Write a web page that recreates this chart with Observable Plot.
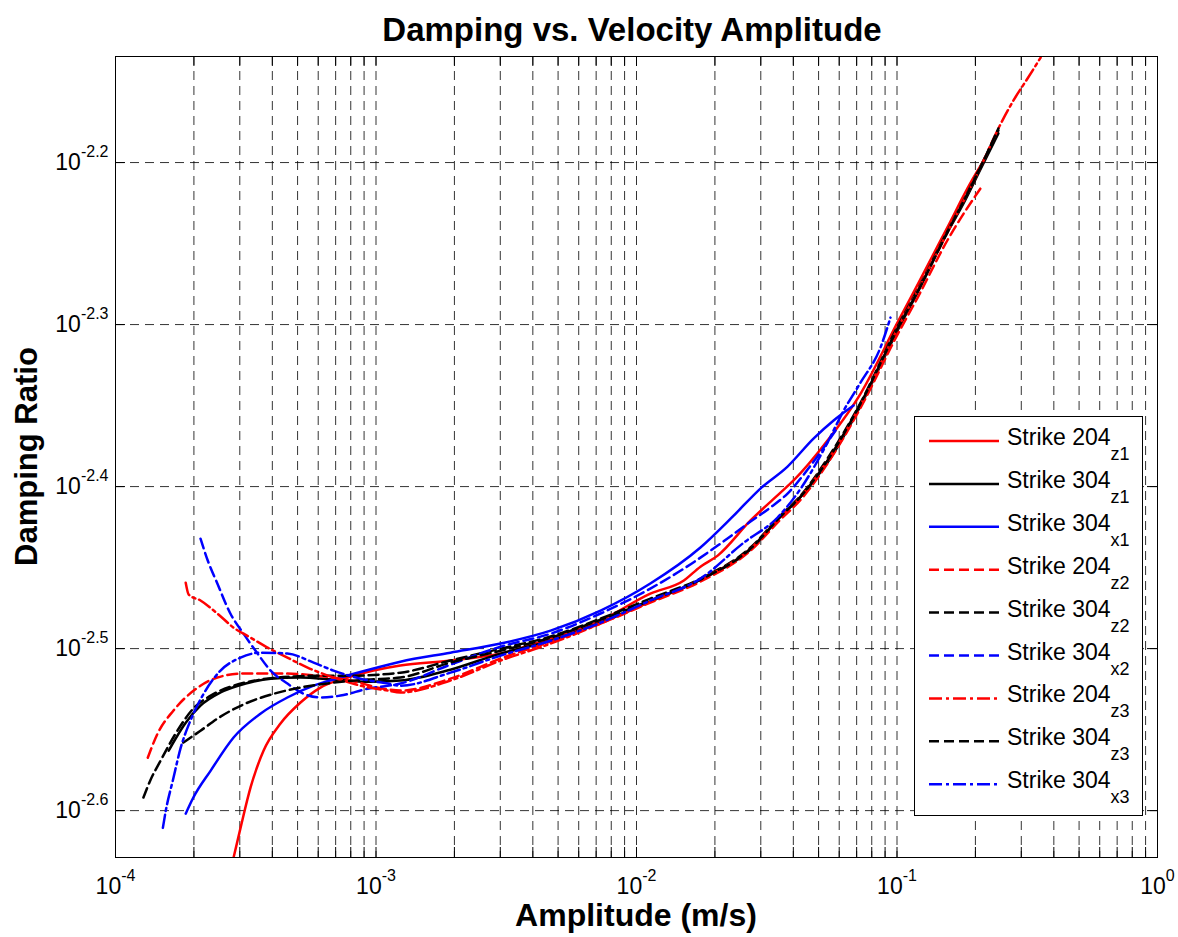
<!DOCTYPE html>
<html>
<head>
<meta charset="utf-8">
<script src="https://cdn.jsdelivr.net/npm/d3@7"></script>
<script src="https://cdn.jsdelivr.net/npm/@observablehq/plot@0.6"></script>
<style>
  body { margin: 0; background: #fff; }
  #wrap { position: relative; width: 1178px; height: 937px; font-family: "Liberation Sans", Arial, sans-serif; overflow: hidden; }
  .lbl { position: absolute; font-weight: bold; white-space: nowrap; text-align: center; color: #000; }
</style>
</head>
<body>
<div id="wrap">
  <div id="chart" style="position:absolute;left:0;top:0"></div>
  <div class="lbl" style="left:332px;width:600px;top:13px;font-size:33px;line-height:33px">Damping vs. Velocity Amplitude</div>
  <div class="lbl" style="left:336px;width:600px;top:899px;font-size:32px;line-height:32px">Amplitude (m/s)</div>
  <div class="lbl" style="left:-174px;width:400px;top:441px;height:31px;font-size:31px;line-height:31px;transform:rotate(-90deg);transform-origin:200px 15.5px">Damping Ratio</div>
</div>
<script>
// ---- Data (amplitude in m/s, damping ratio) ----
const amp204z1 = [2.84e-4, 3.02e-4, 3.30e-4, 3.70e-4, 4.30e-4, 5.13e-4, 6.12e-4, 7.77e-4, 9.78e-4, 1.24e-3, 1.93e-3, 3.01e-3, 4.68e-3, 7.28e-3, 1.13e-2, 1.52e-2, 1.76e-2, 2.05e-2, 2.74e-2, 3.57e-2, 4.01e-2, 5.41e-2, 7.25e-2, 0.1005, 0.120, 0.156, 0.191, 0.219];
const damp204z1 = [0.002350, 0.002451, 0.002596, 0.002735, 0.002843, 0.002929, 0.002992, 0.003035, 0.003065, 0.003087, 0.003109, 0.003140, 0.003208, 0.003291, 0.003419, 0.003484, 0.003553, 0.003609, 0.003794, 0.003947, 0.004016, 0.004250, 0.004544, 0.005027, 0.005305, 0.005753, 0.006125, 0.006355];

const amp304z1 = [1.60e-4, 1.70e-4, 1.86e-4, 2.12e-4, 2.53e-4, 3.16e-4, 3.94e-4, 5.13e-4, 6.87e-4, 9.28e-4, 1.24e-3, 1.93e-3, 3.01e-3, 4.68e-3, 7.28e-3, 1.13e-2, 1.76e-2, 2.74e-2, 3.57e-2, 4.27e-2, 5.41e-2, 7.25e-2, 0.1005, 0.120, 0.156, 0.180, 0.209, 0.245];
const damp304z1 = [0.002735, 0.002782, 0.002846, 0.002916, 0.002971, 0.003009, 0.003030, 0.003035, 0.003026, 0.003017, 0.003022, 0.003069, 0.003140, 0.003198, 0.003281, 0.003381, 0.003488, 0.003640, 0.003815, 0.003925, 0.004119, 0.004467, 0.004970, 0.005246, 0.005712, 0.005953, 0.006248, 0.006576];

const amp304x1 = [1.86e-4, 1.99e-4, 2.32e-4, 2.84e-4, 3.60e-4, 4.57e-4, 5.76e-4, 7.31e-4, 9.78e-4, 1.24e-3, 1.93e-3, 3.01e-3, 4.68e-3, 7.28e-3, 1.13e-2, 1.76e-2, 2.36e-2, 2.99e-2, 3.80e-2, 4.78e-2, 5.71e-2, 6.81e-2];
const damp304x1 = [0.002501, 0.002559, 0.002659, 0.002787, 0.002883, 0.002950, 0.003000, 0.003035, 0.003074, 0.003104, 0.003144, 0.003185, 0.003244, 0.003338, 0.003469, 0.003651, 0.003820, 0.003970, 0.004096, 0.004262, 0.004373, 0.004467];

const amp204z2 = [1.33e-4, 1.45e-4, 1.67e-4, 2.07e-4, 2.46e-4, 3.10e-4, 4.42e-4, 5.96e-4, 7.98e-4, 1.07e-3, 1.24e-3, 1.93e-3, 3.01e-3, 4.68e-3, 7.28e-3, 1.13e-2, 1.76e-2, 2.74e-2, 3.57e-2, 4.27e-2, 5.41e-2, 7.25e-2, 0.1005, 0.120, 0.156, 0.213];
const damp204z2 = [0.002708, 0.002802, 0.002896, 0.002992, 0.003035, 0.003052, 0.003052, 0.003043, 0.003022, 0.002987, 0.002979, 0.003030, 0.003118, 0.003194, 0.003277, 0.003376, 0.003478, 0.003635, 0.003799, 0.003908, 0.004114, 0.004454, 0.004942, 0.005208, 0.005648, 0.006108];

const amp304z2 = [1.28e-4, 1.36e-4, 1.49e-4, 1.70e-4, 1.99e-4, 2.32e-4, 2.84e-4, 3.60e-4, 4.70e-4, 6.12e-4, 7.98e-4, 1.24e-3, 1.93e-3, 3.01e-3, 4.68e-3, 7.28e-3, 1.13e-2, 1.76e-2, 2.74e-2, 3.57e-2, 4.27e-2, 5.41e-2, 7.25e-2, 0.1005, 0.120, 0.156, 0.180, 0.209, 0.245];
const damp304z2 = [0.002559, 0.002622, 0.002697, 0.002802, 0.002904, 0.002958, 0.003000, 0.003026, 0.003039, 0.003043, 0.003043, 0.003056, 0.003109, 0.003162, 0.003217, 0.003300, 0.003395, 0.003493, 0.003651, 0.003820, 0.003931, 0.004143, 0.004486, 0.004998, 0.005268, 0.005721, 0.005978, 0.006274, 0.006604];

const amp304x2 = [2.12e-4, 2.26e-4, 2.46e-4, 2.76e-4, 3.10e-4, 3.51e-4, 3.94e-4, 4.57e-4, 5.27e-4, 6.12e-4, 7.31e-4, 9.28e-4, 1.24e-3, 1.93e-3, 3.01e-3, 4.68e-3, 7.28e-3, 1.13e-2, 1.52e-2, 2.05e-2, 2.74e-2, 3.27e-2, 3.80e-2, 4.66e-2, 5.81e-2];
const damp304x2 = [0.003697, 0.003584, 0.003469, 0.003324, 0.003230, 0.003140, 0.003065, 0.003009, 0.002966, 0.002950, 0.002958, 0.002987, 0.003009, 0.003091, 0.003171, 0.003230, 0.003324, 0.003444, 0.003543, 0.003661, 0.003788, 0.003865, 0.003942, 0.004102, 0.004311];

const amp204z3 = [1.86e-4, 1.91e-4, 2.12e-4, 2.46e-4, 2.84e-4, 3.30e-4, 3.83e-4, 4.57e-4, 5.46e-4, 6.87e-4, 8.72e-4, 1.11e-3, 1.24e-3, 1.93e-3, 3.01e-3, 4.68e-3, 7.28e-3, 1.13e-2, 1.76e-2, 2.74e-2, 3.57e-2, 4.27e-2, 5.41e-2, 7.25e-2, 0.1005, 0.120, 0.156, 0.209, 0.245, 0.280, 0.317, 0.356];
const damp204z3 = [0.003473, 0.003415, 0.003386, 0.003324, 0.003258, 0.003212, 0.003167, 0.003122, 0.003078, 0.003035, 0.003000, 0.002979, 0.002971, 0.003022, 0.003109, 0.003185, 0.003277, 0.003381, 0.003488, 0.003645, 0.003815, 0.003925, 0.004131, 0.004473, 0.004984, 0.005260, 0.005712, 0.006266, 0.006623, 0.006892, 0.007110, 0.007325];

const amp304z3 = [1.82e-4, 2.12e-4, 2.53e-4, 3.16e-4, 3.94e-4, 5.13e-4, 6.87e-4, 9.28e-4, 1.24e-3, 1.93e-3, 3.01e-3, 4.68e-3, 7.28e-3, 1.13e-2, 1.76e-2, 2.74e-2, 3.57e-2, 4.27e-2, 5.41e-2, 7.25e-2, 0.1005, 0.120, 0.156, 0.180, 0.209, 0.245];
const damp304z3 = [0.002767, 0.002814, 0.002871, 0.002925, 0.002962, 0.002992, 0.003013, 0.003026, 0.003035, 0.003100, 0.003153, 0.003212, 0.003295, 0.003386, 0.003488, 0.003645, 0.003815, 0.003925, 0.004131, 0.004480, 0.004984, 0.005253, 0.005712, 0.005970, 0.006266, 0.006623];

const amp304x3 = [1.52e-4, 1.56e-4, 1.66e-4, 1.78e-4, 1.94e-4, 2.18e-4, 2.53e-4, 3.02e-4, 3.60e-4, 4.57e-4, 5.76e-4, 6.87e-4, 8.72e-4, 1.11e-3, 1.24e-3, 1.93e-3, 3.01e-3, 4.68e-3, 7.28e-3, 1.13e-2, 1.76e-2, 2.58e-2, 3.48e-2, 4.27e-2, 5.41e-2, 6.24e-2, 7.25e-2, 8.64e-2, 9.44e-2];
const damp304x3 = [0.002451, 0.002512, 0.002622, 0.002747, 0.002855, 0.002966, 0.003065, 0.003122, 0.003144, 0.003140, 0.003100, 0.003065, 0.003030, 0.003009, 0.003000, 0.003056, 0.003131, 0.003198, 0.003281, 0.003386, 0.003493, 0.003676, 0.003810, 0.003970, 0.004238, 0.004435, 0.004616, 0.004851, 0.005062];

// Series names / legend
const seriesNames = ["Strike 204", "Strike 304", "Strike 304", "Strike 204", "Strike 304", "Strike 304", "Strike 204", "Strike 304", "Strike 304"];
const seriesSubs  = ["z1", "z1", "x1", "z2", "z2", "x2", "z3", "z3", "x3"];

// Axis ticks
const xTickExponents = [-4, -3, -2, -1, 0];
const xMinorMultipliers = [2, 3, 4, 5, 6, 7, 8, 9];
const yTickExponents = [-2.6, -2.5, -2.4, -2.3, -2.2];
const yDomain = [0.002350, 0.007336];

// ---- Build ----
const RED = "#ff0000", BLACK = "#000000", BLUE = "#0000ff";
const SOLID = null, DASH = "10,5", DASHDOT = "13,4,3,4";
const series = [
  {amp: amp204z1, damp: damp204z1, color: RED,   dash: SOLID},
  {amp: amp304z1, damp: damp304z1, color: BLACK, dash: SOLID},
  {amp: amp304x1, damp: damp304x1, color: BLUE,  dash: SOLID},
  {amp: amp204z2, damp: damp204z2, color: RED,   dash: DASH},
  {amp: amp304z2, damp: damp304z2, color: BLACK, dash: DASH},
  {amp: amp304x2, damp: damp304x2, color: BLUE,  dash: DASH},
  {amp: amp204z3, damp: damp204z3, color: RED,   dash: DASHDOT},
  {amp: amp304z3, damp: damp304z3, color: BLACK, dash: DASH},
  {amp: amp304x3, damp: damp304x3, color: BLUE,  dash: DASHDOT}
].map((s, i) => ({...s, name: seriesNames[i], sub: seriesSubs[i]}));

const xDecades = xTickExponents.map(e => Math.pow(10, e));
const xMinor = xTickExponents.slice(0, -1).flatMap(e => xMinorMultipliers.map(m => m * Math.pow(10, e)));
const xAll = [...xDecades, ...xMinor];
const yTicks = yTickExponents.map(e => Math.pow(10, e));

const W = 1178, H = 937, mL = 115, mR = 21, mT = 56, mB = 80;
const plotW = W - mL - mR, plotH = H - mT - mB, tickLen = 10;
const gridStyle = {stroke: "#000", strokeWidth: 1, strokeDasharray: "9,6", strokeOpacity: 0.8};
const expOf = d => { const e = Math.round(Math.log10(d) * 10) / 10; return String(e); };

const lineMarks = series.map(s => Plot.line(
  s.amp.map((a, i) => ({amp: a, damp: s.damp[i]})),
  {x: "amp", y: "damp", stroke: s.color, strokeWidth: 2.5, strokeDasharray: s.dash,
   strokeLinejoin: "round", curve: "monotone-x", clip: true}
));

const plot = Plot.plot({
  width: W, height: H,
  marginLeft: mL, marginRight: mR, marginTop: mT, marginBottom: mB,
  x: {type: "log", domain: [1e-4, 1], label: null},
  y: {type: "log", domain: yDomain, label: null},
  style: {fontFamily: "'Liberation Sans', Arial, sans-serif", fontSize: "23px", color: "black", background: "transparent"},
  marks: [
    Plot.ruleX(xAll.filter(v => v > 1e-4 && v < 1), gridStyle),
    Plot.ruleY(yTicks, gridStyle),
    Plot.ruleX(xAll, {insetTop: plotH - tickLen, stroke: "#000"}),
    Plot.ruleX(xAll, {insetBottom: plotH - tickLen, stroke: "#000"}),
    Plot.ruleY(yTicks, {insetRight: plotW - tickLen, stroke: "#000"}),
    Plot.ruleY(yTicks, {insetLeft: plotW - tickLen, stroke: "#000"}),
    Plot.axisX({ticks: xDecades, tickSize: 0, tickPadding: 20, fontSize: 23, label: null,
                tickFormat: d => "10^" + expOf(d)}),
    Plot.axisY({ticks: yTicks, tickSize: 0, tickPadding: 7, fontSize: 23, label: null,
                tickFormat: d => "10^" + expOf(d)}),
    ...lineMarks,
    Plot.frame({stroke: "#000", strokeWidth: 1})
  ]
});

// superscript exponents in tick labels
const NS = "http://www.w3.org/2000/svg";
plot.querySelectorAll('g[aria-label="x-axis tick label"] text, g[aria-label="y-axis tick label"] text').forEach(t => {
  const parts = t.textContent.split("^");
  if (parts.length !== 2) return;
  t.textContent = "";
  const a = document.createElementNS(NS, "tspan"); a.setAttribute("font-size", "23"); a.textContent = parts[0]; t.appendChild(a);
  const b = document.createElementNS(NS, "tspan"); b.setAttribute("dy", "-13"); b.setAttribute("font-size", "16"); b.textContent = parts[1]; t.appendChild(b);
});
document.getElementById("chart").appendChild(plot);

// ---- Legend ----
const legW = 228, legH = 399, rowGap = 42.9, row0 = 25;
const leg = d3.select("#wrap").append("svg")
  .attr("width", legW + 1).attr("height", legH + 1)
  .style("position", "absolute").style("left", "914px").style("top", "416px")
  .style("font-family", "'Liberation Sans', Arial, sans-serif");
leg.append("rect").attr("x", 0.5).attr("y", 0.5).attr("width", legW).attr("height", legH)
  .attr("fill", "#fff").attr("stroke", "#000").attr("stroke-width", 1);
series.forEach((s, i) => {
  const yy = row0 + rowGap * i;
  leg.append("line").attr("x1", 15).attr("x2", 85).attr("y1", yy).attr("y2", yy)
    .attr("stroke", s.color).attr("stroke-width", 2.5).attr("stroke-dasharray", s.dash);
  const t = leg.append("text").attr("x", 93).attr("y", yy + 4).attr("font-size", 23).attr("fill", "#000");
  t.append("tspan").text(s.name);
  t.append("tspan").attr("dy", 15).attr("font-size", 18).text(s.sub);
});
</script>
</body>
</html>
